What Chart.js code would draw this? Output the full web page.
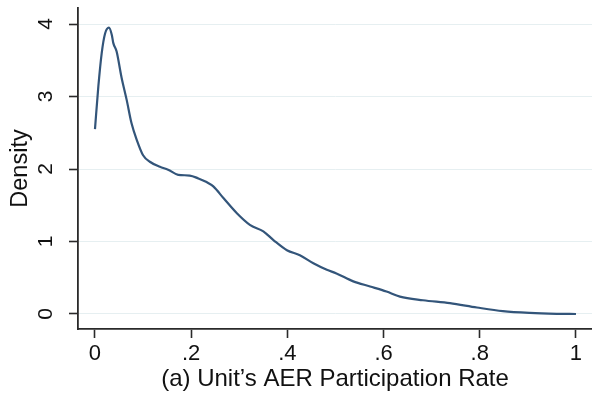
<!DOCTYPE html>
<html>
<head>
<meta charset="utf-8">
<script src="https://cdn.jsdelivr.net/npm/chart.js@4.4.0/dist/chart.umd.min.js"></script>
<style>
  html, body { margin: 0; padding: 0; background: #fff; }
  #wrap { width: 592px; height: 395px; position: relative; }
</style>
</head>
<body>
<div id="wrap"><canvas id="graph"></canvas></div>
<script>
// kernel density of the unit's AER participation rate
const rateX = [0, 0.007, 0.014, 0.021, 0.029, 0.035, 0.038, 0.045, 0.055, 0.066, 0.076, 0.087, 0.1, 0.114, 0.135, 0.152, 0.173, 0.197, 0.215, 0.232, 0.246, 0.267, 0.295, 0.322, 0.35, 0.371, 0.399, 0.426, 0.454, 0.482, 0.502, 0.537, 0.572, 0.606, 0.634, 0.682, 0.738, 0.794, 0.848, 0.904, 0.96, 1.0];
const densityY = [2.55, 3.14, 3.6, 3.87, 3.95, 3.85, 3.74, 3.62, 3.27, 2.95, 2.63, 2.4, 2.19, 2.1, 2.03, 1.99, 1.92, 1.91, 1.87, 1.82, 1.76, 1.6, 1.39, 1.23, 1.14, 1.02, 0.88, 0.81, 0.70, 0.61, 0.56, 0.45, 0.38, 0.31, 0.24, 0.19, 0.15, 0.09, 0.04, 0.015, 0.003, 0];
const xTicks = [0, 0.2, 0.4, 0.6, 0.8, 1];
const xTickLabels = ['0', '.2', '.4', '.6', '.8', '1'];
const yTicks = [0, 1, 2, 3, 4];

const points = [];
for (let i = 0; i < rateX.length; i++) {
    points.push({ x: rateX[i], y: densityY[i] });
}

const fontFamily = "'Liberation Sans', Arial, sans-serif";
const axisColor = '#2a2a2a';

const ctx = document.getElementById('graph').getContext('2d');
new Chart(ctx, {
    type: 'scatter',
    data: {
        datasets: [{
            data: points,
            showLine: true,
            borderColor: '#33557a',
            borderWidth: 2.2,
            pointRadius: 0,
            cubicInterpolationMode: 'monotone',
            fill: false
        }]
    },
    options: {
        responsive: true,
        maintainAspectRatio: false,
        animation: false,
        layout: { padding: { top: 8, right: 0, left: 0, bottom: 0 } },
        plugins: {
            legend: { display: false },
            tooltip: { enabled: false }
        },
        scales: {
            x: {
                type: 'linear',
                min: -0.0353,
                max: 1.0333,
                afterBuildTicks: (scale) => { scale.ticks = xTicks.map(v => ({ value: v })); },
                afterFit: (scale) => {
                    scale.height = 66;
                    scale.paddingLeft = 0;
                    scale.paddingRight = 0;
                },
                ticks: {
                    color: '#111',
                    padding: 3,
                    font: { family: fontFamily, size: 22 },
                    maxRotation: 0,
                    callback: (value) => xTickLabels[xTicks.indexOf(value)]
                },
                grid: {
                    drawOnChartArea: false,
                    drawTicks: true,
                    tickLength: 9,
                    tickColor: axisColor,
                    tickWidth: 1.6
                },
                border: { color: axisColor, width: 1.8 },
                title: {
                    display: true,
                    text: "(a) Unit\u2019s AER Participation Rate",
                    color: '#111',
                    font: { family: fontFamily, size: 24, lineHeight: 1.2 },
                    padding: { top: 0, bottom: 1 }
                }
            },
            y: {
                min: -0.207,
                max: 4.221,
                afterBuildTicks: (scale) => { scale.ticks = yTicks.map(v => ({ value: v })); },
                afterFit: (scale) => {
                    scale.width = 78;
                    scale.paddingTop = 0;
                    scale.paddingBottom = 0;
                },
                ticks: {
                    color: '#111',
                    padding: 17,
                    minRotation: 90,
                    maxRotation: 90,
                    crossAlign: 'center',
                    font: { family: fontFamily, size: 21 },
                    callback: (value) => String(value)
                },
                grid: {
                    color: '#e6eff1',
                    lineWidth: 1,
                    drawTicks: true,
                    tickLength: 9,
                    tickColor: axisColor,
                    tickWidth: 1.6
                },
                border: { color: axisColor, width: 1.8 },
                title: {
                    display: true,
                    text: 'Density',
                    color: '#111',
                    font: { family: fontFamily, size: 23.5, lineHeight: 1.2 },
                    padding: { top: 6, bottom: 0 }
                }
            }
        }
    }
});
</script>
</body>
</html>
